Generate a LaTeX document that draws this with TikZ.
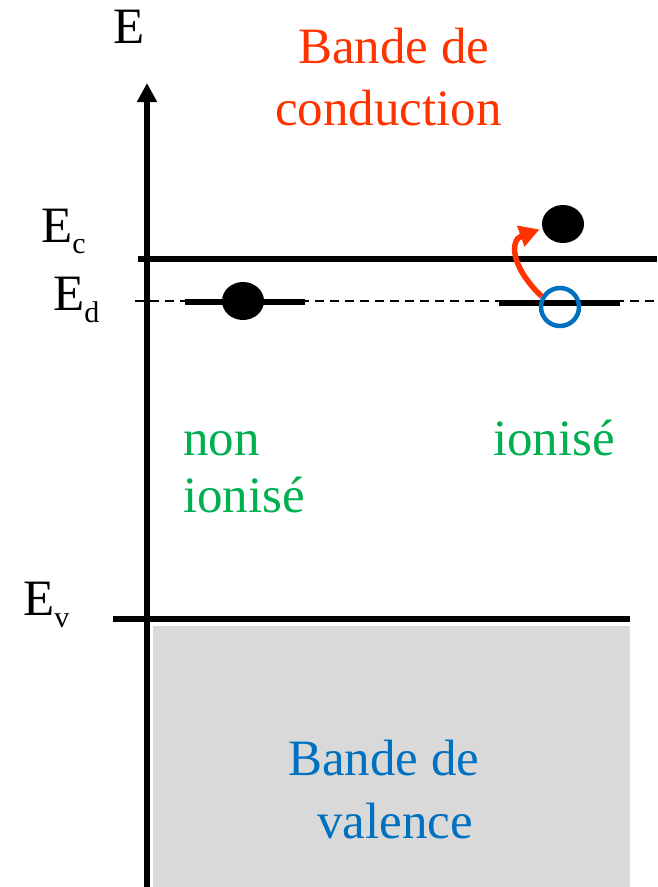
\documentclass[tikz,border=0pt]{standalone}
\usepackage{fontspec}
\setmainfont{Liberation Serif}
\usetikzlibrary{arrows.meta,shapes.geometric}
\definecolor{condred}{HTML}{FF3300}
\definecolor{valblue}{HTML}{0070C0}
\definecolor{donorgreen}{HTML}{00B050}
\definecolor{bandgray}{HTML}{D9D9D9}
\newcommand{\bigtxt}{\fontsize{51}{62}\selectfont}
\newcommand{\lvl}[2]{E\raisebox{-#2pt}{\fontsize{30}{30}\selectfont #1}}
\begin{document}
\begin{tikzpicture}[x=1pt,y=-1pt,
  level/.style={line width=6pt},
  donorlevel/.style={line width=6pt},
  lbl/.style={anchor=base west,inner sep=0pt,font=\bigtxt},
  electron/.style={ellipse,fill=black,minimum width=42pt,minimum height=38pt,inner sep=0pt},
  hole/.style={circle,draw=valblue,line width=4.5pt,minimum size=38pt,inner sep=0pt},
  jump/.style={condred,line width=5.5pt,-{Triangle[length=20pt,width=21pt]}}]
\useasboundingbox (0,0) rectangle (657,887);
% valence band
\fill[bandgray] (153,626) rectangle (630,887);
% levels
\draw[level] (113,619) -- (630,619);
\draw[level] (138,259) -- (657,259);
\draw[line width=2pt,dash pattern=on 9pt off 6pt] (135,301) -- (657,301);
\draw[donorlevel] (185,302) -- (305,302);
\draw[donorlevel] (499,303) -- (620,303);
% energy axis
\draw[line width=6pt,-{Triangle[length=19pt,width=19pt]}] (147,887) -- (147,83);
% carriers
\node[electron] (eL) at (243,301) {};
\node[hole] (h) at (560,307) {};
\node[electron] (eC) at (563,224) {};
\draw[jump,shorten >=3pt] (h.150) .. controls (510,266) and (510,240) .. (eC.192);
% labels
\node[lbl] (tE) at (113,43) {E};
\node[lbl] (tEc) at (41,242) {\lvl{c}{11}};
\node[lbl] (tEd) at (53,310) {\lvl{d}{12}};
\node[lbl] (tEv) at (23,615) {\lvl{v}{12}};
\node[lbl,text=condred] (cb1) at (298,63) {Bande de};
\node[lbl,text=condred] (cb2) at (275,125) {conduction};
\node[lbl,text=donorgreen] (g1) at (183,455) {non};
\node[lbl,text=donorgreen] (g2) at (183,512) {ionisé};
\node[lbl,text=donorgreen] (g3) at (493,455) {ionisé};
\node[lbl,text=valblue] (vb1) at (288,775) {Bande de};
\node[lbl,text=valblue] (vb2) at (317,838) {valence};
\end{tikzpicture}
\end{document}
